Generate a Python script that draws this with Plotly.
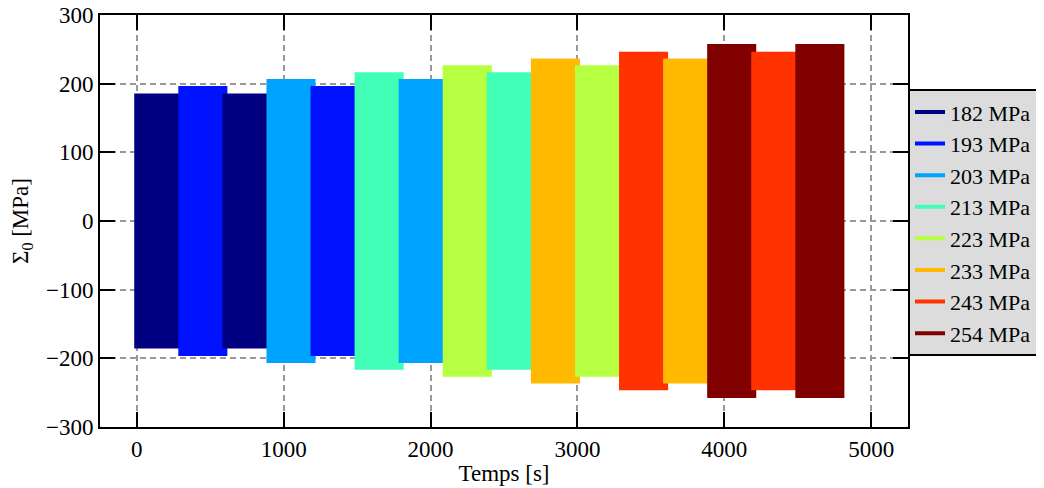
import plotly.graph_objects as go

# ---- data ----
block_start = [0, 300, 600, 900, 1200, 1500, 1800, 2100, 2400, 2700, 3000, 3300, 3600, 3900, 4200, 4500]
block_amplitude = [182, 193, 182, 203, 193, 213, 203, 223, 213, 233, 223, 243, 233, 254, 243, 254]
block_duration = 300

levels = [182, 193, 203, 213, 223, 233, 243, 254]
level_colors = ["#000080", "#0012ff", "#00a4ff", "#41ffb6", "#b6ff41", "#ffb900", "#ff3200", "#800000"]
legend_labels = [f"{v} MPa" for v in levels]

x_ticks = [0, 1000, 2000, 3000, 4000, 5000]
y_ticks = [-300, -200, -100, 0, 100, 200, 300]

color_of = dict(zip(levels, level_colors))

FONT = "'Liberation Serif', 'DejaVu Serif', serif"
FS = 23

fig = go.Figure()

for t0, amp in zip(block_start, block_amplitude):
    t1 = t0 + block_duration
    c = color_of[amp]
    fig.add_trace(go.Scatter(
        x=[t0, t0, t1, t1, t0, t0],
        y=[0, -amp, -amp, amp, amp, 0],
        mode="lines", fill="toself", fillcolor=c,
        line=dict(color=c, width=5),
        showlegend=False, hoverinfo="skip",
    ))

for lab, c in zip(legend_labels, level_colors):
    fig.add_trace(go.Scatter(
        x=[None], y=[None], mode="lines",
        line=dict(color=c, width=4), name=lab, showlegend=True,
    ))

axis_common = dict(
    showline=True, linecolor="black", linewidth=2, mirror="ticks",
    ticks="inside", ticklen=15, tickwidth=2, tickcolor="black",
    showgrid=True, gridcolor="#999999", gridwidth=1.5, griddash="6px,4px",
    zeroline=False, automargin=False, ticklabeloverflow="allow",
    tickfont=dict(family=FONT, size=FS, color="black"),
)

fig.update_xaxes(range=[-250, 5250], tickvals=x_ticks,
                 title=dict(text="Temps [s]", font=dict(family=FONT, size=FS, color="black"), standoff=4),
                 **axis_common)
fig.update_yaxes(range=[-300, 300], tickvals=y_ticks,
                 title=dict(text="Σ<sub>0</sub> [MPa]", font=dict(family=FONT, size=FS, color="black"), standoff=15),
                 **axis_common)

# page body adds an 8px offset, so the figure is sized 8px smaller on each axis
fig.update_layout(
    width=1036, height=480,
    margin=dict(l=92, r=136, t=7, b=61, autoexpand=False),
    plot_bgcolor="white", paper_bgcolor="white",
    font=dict(family=FONT, size=FS, color="black"),
    legend=dict(x=1.0, xanchor="left", y=0.82, yanchor="top",
                bgcolor="#dcdcdc", bordercolor="black", borderwidth=2,
                font=dict(family=FONT, size=22, color="black"),
                tracegroupgap=0, itemwidth=30),
)

fig.write_html("out.html")
